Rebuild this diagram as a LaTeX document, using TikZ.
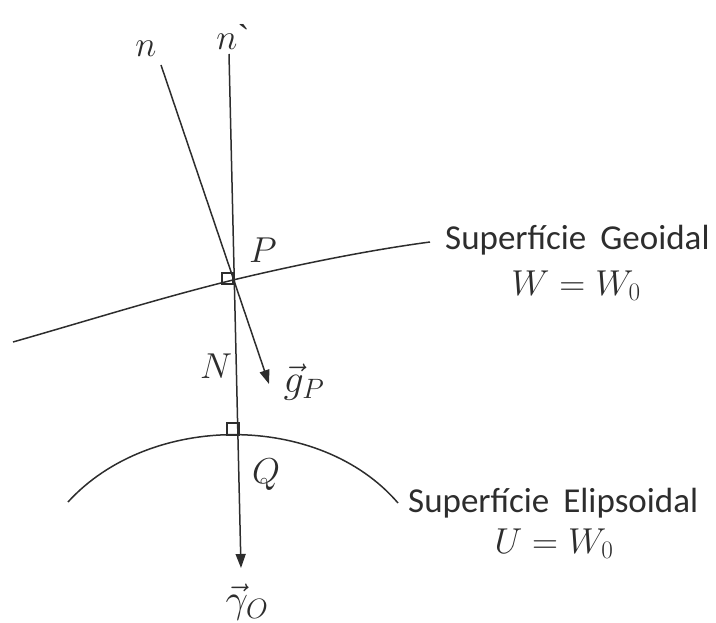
\RequirePackage{fix-cm}
\documentclass[tikz,border=0pt]{standalone}
\usepackage{fontspec}
\setmainfont{Carlito}
\newfontfamily\gravefont{Liberation Serif}
\usepackage{amsmath}
\usepackage{tikz}
\usetikzlibrary{arrows.meta}
\definecolor{inkgray}{RGB}{45,45,45}

\begin{document}
\begin{tikzpicture}[
x=1pt, y=-1pt,
every node/.style={inner sep=0pt, text=inkgray, font=\fontsize{36}{43}\selectfont},
line_style/.style={draw=inkgray, line width=1.5pt},
arrow/.style={line_style, -{Triangle[length=14pt, width=10pt]}},
pt_label/.style={anchor=base},
vec_label/.style={anchor=base, font=\fontsize{40}{48}\selectfont},
surf_label/.style={anchor=base west, font=\fontsize{35}{42}\selectfont},
sq_style/.style={draw=inkgray, line width=1.5pt}
]

% Points and line ends

\coordinate (P) at (233,280);
\coordinate (Q) at (239,435);
\coordinate (nTop) at (161,65);
\coordinate (gTip) at (269,384);
\coordinate (npTop) at (229,54);
\coordinate (gamTip) at (241,568);
\coordinate (geoL) at (13,342);
\coordinate (geoR) at (430,242);
\coordinate (ellL) at (68,502);
\coordinate (ellR) at (398,503);

% Surfaces

\draw[line_style] (geoL) .. controls (90,320) and (160,298) .. (P)
  .. controls (300,264) and (370,250) .. (geoR);

\draw[line_style] (ellL) .. controls (150,412) and (320,412) .. (ellR);

% Normals

\draw[arrow] (nTop) -- (gTip);

\draw[arrow] (npTop) -- (gamTip);

% Right angle marks

\draw[sq_style] (233,284) rectangle ++(-11,-11);

\draw[sq_style] (Q) rectangle ++(-12,-12);

% Labels

\node[pt_label] (lbl_n) at (146,57) {$n$};

\node[pt_label] (lbl_np) at (233,50) {$n${\gravefont\char"0060}};

\node[pt_label] (lbl_P) at (263,263) {$P$};

\node[pt_label] (lbl_N) at (216,378) {$N$};

\node[vec_label] (lbl_g) at (304,392) {$\vec{g}_P$};

\node[pt_label] (lbl_Q) at (266,483) {$Q$};

\node[vec_label] (lbl_gam) at (247,612) {$\vec{\gamma}_O$};

% Surface names

\node[surf_label] (geo_name) at (445,250) {Superfície\hspace{0.4em}Geoidal};

\node[pt_label] (geo_eq) at (576,295) {$W = W_0$};

\node[surf_label] (ell_name) at (408,512) {Superfície\hspace{0.4em}Elipsoidal};

\node[pt_label] (ell_eq) at (554,553) {$U = W_0$};

\pgfresetboundingbox
\useasboundingbox (0,0) rectangle (716,623);

\end{tikzpicture}
\end{document}
